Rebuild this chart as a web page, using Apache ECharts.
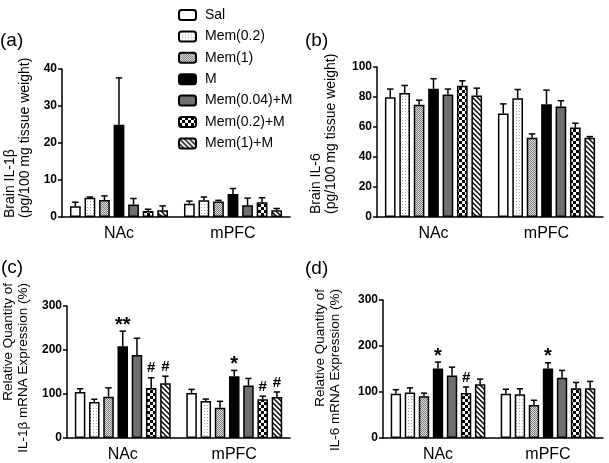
<!DOCTYPE html>
<html><head><meta charset="utf-8">
<script src="https://cdn.jsdelivr.net/npm/echarts@6/dist/echarts.min.js"></script>
<style>html,body{margin:0;padding:0;background:#fff}#c{width:609px;height:463px}</style>
</head><body><div id="c"></div>
<script>
const groups = ['NAc', 'mPFC'];
const seriesNames = ['Sal', 'Mem(0.2)', 'Mem(1)', 'M', 'Mem(0.04)+M', 'Mem(0.2)+M', 'Mem(1)+M'];

// (a) Brain IL-1β (pg/100 mg tissue weight)
const a_NAc = [2.9, 5.2, 4.6, 24.9, 3.4, 1.6, 1.8];
const a_NAc_err = [1.1, 0.2, 1.1, 12.7, 1.6, 0.5, 1.2];
const a_mPFC = [3.6, 4.5, 4.2, 6.2, 3.2, 4.0, 1.8];
const a_mPFC_err = [0.7, 0.9, 0.3, 1.5, 1.9, 1.2, 0.5];
const a_ticks = [0, 40, 10];

// (b) Brain IL-6
const b_NAc = [79.9, 82.6, 74.8, 85.5, 81.7, 87.5, 81.0];
const b_NAc_err = [5.4, 5.1, 3.1, 6.7, 3.6, 3.3, 4.9];
const b_mPFC = [69.0, 79.2, 52.9, 75.2, 73.7, 59.6, 52.9];
const b_mPFC_err = [6.4, 5.8, 2.5, 9.4, 3.8, 2.9, 0.7];
const b_ticks = [0, 100, 20];

// (c) IL-1β mRNA expression (%)
const c_NAc = [104.6, 82, 93.6, 208.5, 188.7, 113.4, 124.4];
const c_NAc_err = [7.4, 6, 20.4, 34.5, 38.1, 23.4, 16.1];
const c_mPFC = [102.4, 84, 68.8, 140.5, 119.2, 87.8, 92.9];
const c_mPFC_err = [8.1, 4.5, 14.6, 13.1, 16.1, 7.3, 11.7];
const c_marks_NAc = ['', '', '', '**', '', '#', '#'];
const c_marks_mPFC = ['', '', '', '*', '', '#', '#'];
const c_ticks = [0, 300, 100];

// (d) IL-6 mRNA expression (%)
const d_NAc = [96, 99, 90.5, 151, 136, 98, 117];
const d_NAc_err = [9, 10, 7, 14, 18, 13, 11];
const d_mPFC = [96, 95, 71.6, 151, 131, 108, 108];
const d_mPFC_err = [10, 12, 10.4, 12.5, 16, 12.7, 15];
const d_marks_NAc = ['', '', '', '*', '', '#', ''];
const d_marks_mPFC = ['', '', '', '*', '', '', ''];
const d_ticks = [0, 300, 100];

const FONT = 'Liberation Sans, Arial, sans-serif';
const FRAC = 0.86, GAP = 0.35;

function pat(w, h, draw) {
  const c = document.createElement('canvas'); c.width = w; c.height = h;
  const x = c.getContext('2d'); x.fillStyle = '#fff'; x.fillRect(0, 0, w, h); draw(x);
  return { image: c, repeat: 'repeat' };
}
const fills = [
  '#ffffff',
  pat(3, 3, x => { x.fillStyle = '#a8a8a8'; x.fillRect(0, 0, 1, 1); }),
  pat(2, 2, x => { x.fillStyle = '#e4e4e4'; x.fillRect(0, 0, 2, 2); x.fillStyle = '#777'; x.fillRect(0, 0, 1, 1); x.fillRect(1, 1, 1, 1); }),
  '#000000',
  '#6f6f6f',
  pat(6, 6, x => { x.fillStyle = '#000'; x.fillRect(0, 0, 3, 3); x.fillRect(3, 3, 3, 3); }),
  pat(5, 5, x => { x.strokeStyle = '#000'; x.lineWidth = 1.4; for (let k = -5; k <= 5; k += 5) { x.beginPath(); x.moveTo(k - 1, -1); x.lineTo(k + 6, 6); x.stroke(); } })
];

const panels = [
  { grid: { left: 62, top: 69, width: 228, height: 148 }, nac: a_NAc, nacE: a_NAc_err, pf: a_mPFC, pfE: a_mPFC_err, ticks: a_ticks, mN: null, mP: null },
  { grid: { left: 377, top: 67, width: 226, height: 150 }, nac: b_NAc, nacE: b_NAc_err, pf: b_mPFC, pfE: b_mPFC_err, ticks: b_ticks, mN: null, mP: null },
  { grid: { left: 67, top: 306, width: 223, height: 136 }, nac: c_NAc, nacE: c_NAc_err, pf: c_mPFC, pfE: c_mPFC_err, ticks: c_ticks, mN: c_marks_NAc, mP: c_marks_mPFC },
  { grid: { left: 383, top: 300, width: 220, height: 142 }, nac: d_NAc, nacE: d_NAc_err, pf: d_mPFC, pfE: d_mPFC_err, ticks: d_ticks, mN: d_marks_NAc, mP: d_marks_mPFC }
];

const grid = [], xAxis = [], yAxis = [], series = [];
panels.forEach((p, gi) => {
  grid.push(p.grid);
  xAxis.push({
    type: 'category', gridIndex: gi, data: groups,
    axisLine: { lineStyle: { color: '#000', width: 1.5 } },
    axisTick: { show: false },
    axisLabel: { fontSize: 16, color: '#000', margin: 9, fontFamily: FONT }
  });
  yAxis.push({
    type: 'value', gridIndex: gi, min: p.ticks[0], max: p.ticks[1], interval: p.ticks[2],
    axisLine: { show: true, lineStyle: { color: '#000', width: 1.5 } },
    axisTick: { show: true, length: 4, lineStyle: { color: '#000', width: 1.5 } },
    axisLabel: { fontSize: 12, fontWeight: 'bold', color: '#000', margin: 5, fontFamily: FONT },
    splitLine: { show: false }
  });
  seriesNames.forEach((nm, si) => {
    series.push({
      type: 'bar', name: nm, xAxisIndex: gi, yAxisIndex: gi,
      data: [p.nac[si], p.pf[si]],
      barCategoryGap: ((1 - FRAC) * 100) + '%', barGap: (GAP * 100) + '%',
      itemStyle: { color: fills[si], borderColor: '#000', borderWidth: 1.5 },
      emphasis: { disabled: true }, z: 2
    });
  });
  const errData = [];
  seriesNames.forEach((nm, si) => {
    errData.push([0, p.nac[si], p.nacE[si], si]);
    errData.push([1, p.pf[si], p.pfE[si], si]);
  });
  series.push({
    type: 'custom', xAxisIndex: gi, yAxisIndex: gi, data: errData, z: 3,
    encode: { x: 0, y: 1 }, silent: true,
    renderItem: (params, api) => {
      const ci = api.value(0), m = api.value(1), e = api.value(2), si = api.value(3);
      const base = api.coord([ci, m]); const top = api.coord([ci, m + e]);
      const catW = api.size([1, 0])[0];
      const groupW = catW * FRAC; const bw = groupW / (7 + 6 * GAP);
      const x = base[0] - groupW / 2 + si * bw * (1 + GAP) + bw / 2;
      const ch = bw * 0.3;
      return { type: 'group', children: [
        { type: 'line', shape: { x1: x, y1: base[1], x2: x, y2: top[1] }, style: { stroke: '#000', lineWidth: 1.5 } },
        { type: 'line', shape: { x1: x - ch, y1: top[1], x2: x + ch, y2: top[1] }, style: { stroke: '#000', lineWidth: 1.5 } }
      ] };
    }
  });
  if (p.mN) {
    const marks = [];
    seriesNames.forEach((nm, si) => {
      if (p.mN[si]) marks.push([0, p.nac[si] + p.nacE[si], si, p.mN[si]]);
      if (p.mP[si]) marks.push([1, p.pf[si] + p.pfE[si], si, p.mP[si]]);
    });
    series.push({
      type: 'custom', xAxisIndex: gi, yAxisIndex: gi, z: 4, silent: true,
      data: marks.map(r => [r[0], r[1], r[2]]), encode: { x: 0, y: 1 },
      renderItem: (params, api) => {
        const ci = api.value(0), v = api.value(1), si = api.value(2);
        const t = marks[params.dataIndex][3];
        const pt = api.coord([ci, v]);
        const catW = api.size([1, 0])[0];
        const groupW = catW * FRAC; const bw = groupW / (7 + 6 * GAP);
        const x = pt[0] - groupW / 2 + si * bw * (1 + GAP) + bw / 2;
        const star = t.indexOf('*') >= 0;
        return { type: 'text', x: x, y: pt[1] + (star ? 4 : -2), style: {
          text: t, textAlign: 'center', textVerticalAlign: 'bottom',
          font: (star ? 'bold 20px ' : 'bold 15px ') + FONT, fill: '#000'
        } };
      }
    });
  }
});

const titles = [
  { x: 17.5, y: 218, t: 'Brain IL-1β\n(pg/100 mg tissue weight)', al: 'left', fs: 14 },
  { x: 324, y: 214, t: 'Brain IL-6\n(pg/100 mg tissue weight)', al: 'left', fs: 14 },
  { x: 16, y: 283, t: 'Relative Quantity of\nIL-1β mRNA Expression (%)', al: 'right', fs: 13.5 },
  { x: 328, y: 289, t: 'Relative Quantity of\nIL-6 mRNA Expression (%)', al: 'right', fs: 13.5 }
];
const graphic = titles.map(o => ({
  type: 'text', x: o.x, y: o.y, rotation: Math.PI / 2,
  style: { text: o.t, textAlign: o.al, textVerticalAlign: 'middle', font: o.fs + 'px ' + FONT, lineHeight: 15, fill: '#000' }
}));
[['(a)', 0, 31], ['(b)', 305, 31], ['(c)', 1, 258], ['(d)', 305, 259]].forEach(l => {
  graphic.push({ type: 'text', left: l[1], top: l[2], style: { text: l[0], font: '19px ' + FONT, fill: '#000' } });
});

const chart = echarts.init(document.getElementById('c'), null, { renderer: 'canvas' });
chart.setOption({
  animation: false,
  backgroundColor: '#fff',
  textStyle: { fontFamily: FONT },
  legend: {
    orient: 'vertical', left: 173, top: 3, itemWidth: 17, itemHeight: 10, itemGap: 7.4,
    selectedMode: false, data: seriesNames,
    textStyle: { fontSize: 14, color: '#000', fontFamily: FONT, lineHeight: 10, padding: [0, 0, 0, 4] }
  },
  grid, xAxis, yAxis, series, graphic
});
</script></body></html>
